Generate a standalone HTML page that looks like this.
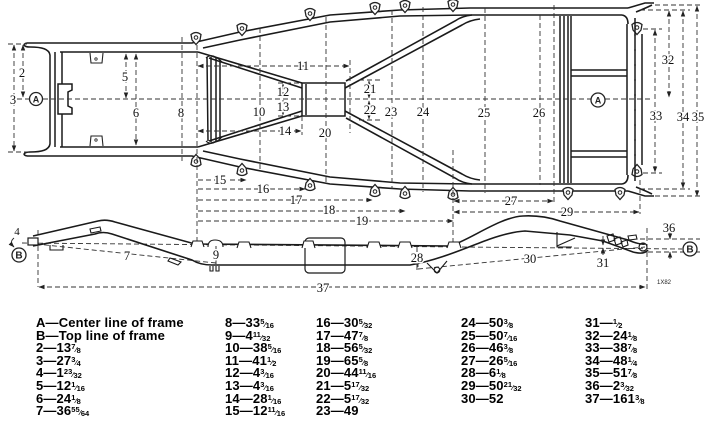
<!DOCTYPE html>
<html><head><meta charset="utf-8">
<style>
html,body{margin:0;padding:0;background:#fff;}
body{width:707px;height:438px;position:relative;overflow:hidden;}
svg{position:absolute;left:0;top:0;}
.col{position:absolute;top:317px;font-family:"Liberation Sans",sans-serif;font-weight:bold;font-size:13px;line-height:12.6px;color:#000;white-space:nowrap;letter-spacing:0.15px;}
.col div{height:12.6px;}
.f{font-size:7px;letter-spacing:0;}
.f sup{vertical-align:3px;line-height:0;font-size:7.5px;}
.f sub{vertical-align:-1px;line-height:0;font-size:7.5px;}
</style></head><body>
<svg width="707" height="438" viewBox="0 0 707 438">
<defs>
<marker id="ar" markerWidth="6" markerHeight="6" refX="5.5" refY="3" orient="auto-start-reverse" markerUnits="userSpaceOnUse"><path d="M0,0.8 L6,3 L0,5.2 z" fill="#222"/></marker>
<g id="mt"><path d="M-5,-3.5 Q0,-7.5 5,-3.5 L4,2 L0,6.5 L-4,2 Z" fill="#fff" stroke="#222" stroke-width="1.3"/><circle r="1.8" cy="-0.5" fill="none" stroke="#222" stroke-width="1"/></g>
<g id="half">
 <g fill="none" stroke="#1a1a1a" stroke-width="1.6">
  <path d="M27,43 L192,43 L240,32 L330,15 L400,10 L470,8 L628,8"/>
  <path d="M60,52 L198,52"/>
  <path d="M203,48 L240,40 L330,22 L400,16 L470,15 L622,15"/>
  <path d="M27,43 C22,44 24,47 30,47 C42,47 49,49 50,55"/>
  <path d="M198,52 L302,83"/>
  <path d="M209,58 L302,88"/>
  <path d="M346,81 L455,21 Q462,16 472,15"/>
  <path d="M345,88 L462,25 Q470,20 480,19"/>
  <path d="M622,15 Q628,16 628,24"/>
  <path d="M628,8 L645,3 L654,3"/>
  <path d="M636,12 Q646,8 652,5"/>
 </g>
 <use href="#mt" x="196" y="38"/>
 <use href="#mt" x="242" y="29"/>
 <use href="#mt" x="310" y="14"/>
 <use href="#mt" x="375" y="8"/>
 <use href="#mt" x="405" y="6"/>
 <use href="#mt" x="453" y="5"/>
 <use href="#mt" x="637" y="28"/>
 <path d="M90,53 L91,63 L102,63 L103,53" fill="none" stroke="#222" stroke-width="1.1"/>
 <circle cx="96" cy="59" r="1.2" fill="none" stroke="#222" stroke-width="0.8"/>
</g>
</defs>

<!-- top view frame -->
<use href="#half"/>
<use href="#half" transform="matrix(1 0 0 -1 0 199)"/>
<g fill="none" stroke="#1a1a1a" stroke-width="1.5">
 <path d="M50,55 L50,144 M55,52 L55,147 M62,52 L62,147"/>
 <path d="M207,57 L208,141 M211,57 L211,142 M216,58 L216,141 M220,60 L220,139"/>
 <path d="M206,58 Q212,52 222,62 M206,141 Q212,147 222,137" stroke-width="1.2"/>
 <rect x="302" y="83" width="43" height="33"/>
 <path d="M306,84 L306,115"/>
 <path d="M560,16 L560,183 M564,16 L564,183 M568,16 L568,183 M571,16 L571,183"/>
 <path d="M571,70 L627,70 M571,76 L627,76 M571,151 L627,151 M571,157 L627,157"/>
 <path d="M627,24 L627,175 M635,18 L635,181 M642,34 L642,165"/>
 <path d="M58,84 L72,84 L72,90 L68,92 L68,106 L72,108 L72,114 L58,114 Z" fill="#fff"/>
</g>
<g fill="#222">
 <circle cx="635" cy="35" r="0.9"/><circle cx="635" cy="50" r="0.9"/><circle cx="635" cy="65" r="0.9"/><circle cx="635" cy="80" r="0.9"/><circle cx="635" cy="95" r="0.9"/><circle cx="635" cy="110" r="0.9"/><circle cx="635" cy="125" r="0.9"/><circle cx="635" cy="140" r="0.9"/><circle cx="635" cy="155" r="0.9"/><circle cx="635" cy="170" r="0.9"/>
</g>
<use href="#mt" x="568" y="193"/>
<use href="#mt" x="620" y="193"/>

<!-- top view dimension lines -->
<g fill="none" stroke="#333" stroke-width="0.9" stroke-dasharray="5 3">
 <path d="M17,99 L29,99 M43,99 L591,99 M605,99 L650,99"/>
 <path d="M8,44 L27,44 M8,152 L30,152"/>
 <path d="M23,45 L23,97" marker-start="url(#ar)" marker-end="url(#ar)"/>
 <path d="M14,45 L14,151" marker-start="url(#ar)" marker-end="url(#ar)"/>
 <path d="M126,54 L126,98" marker-start="url(#ar)" marker-end="url(#ar)"/>
 <path d="M136,54 L136,145" marker-start="url(#ar)" marker-end="url(#ar)"/>
 <path d="M182,37 L182,161"/>
 <path d="M260,28 L260,170"/>
 <path d="M198,66 L349,66" marker-start="url(#ar)" marker-end="url(#ar)"/>
 <path d="M350,60 L350,133"/>
 <path d="M283,84 L283,115" marker-start="url(#ar)" marker-end="url(#ar)"/>
 <path d="M278,83 L300,83 M278,116 L300,116"/>
 <path d="M198,131 L301,131" marker-start="url(#ar)" marker-end="url(#ar)"/>
 <path d="M302,116 L302,135"/>
 <path d="M326,17 L326,182"/>
 <path d="M369,81 L369,98" marker-start="url(#ar)" marker-end="url(#ar)"/>
 <path d="M369,101 L369,119" marker-start="url(#ar)" marker-end="url(#ar)"/>
 <path d="M359,80 L381,80 M359,120 L381,120"/>
 <path d="M392,10 L392,189"/>
 <path d="M423,7 L423,192"/>
 <path d="M485,8 L485,193"/>
 <path d="M540,15 L540,185"/>
 <path d="M554,5 L554,203"/>
 <path d="M640,180 L640,214"/>
 <path d="M669,11 L669,97" marker-start="url(#ar)" marker-end="url(#ar)"/>
 <path d="M655,30 L655,172" marker-start="url(#ar)" marker-end="url(#ar)"/>
 <path d="M683,11 L683,188" marker-start="url(#ar)" marker-end="url(#ar)"/>
 <path d="M697,6 L697,196" marker-start="url(#ar)" marker-end="url(#ar)"/>
 <path d="M655,5 L702,5 M640,10 L690,10 M643,29 L662,29 M643,173 L662,173 M640,189 L690,189 M655,196 L702,196"/>
 <path d="M197,45 L197,246"/>
 <path d="M198,180 L246,180" marker-end="url(#ar)"/>
 <path d="M198,189 L305,189" marker-end="url(#ar)"/>
 <path d="M198,200 L372,200" marker-end="url(#ar)"/>
 <path d="M198,211 L405,211" marker-end="url(#ar)"/>
 <path d="M198,221 L453,221" marker-end="url(#ar)"/>
 <path d="M453,150 L453,248"/>
 <path d="M454,201 L553,201" marker-start="url(#ar)" marker-end="url(#ar)"/>
 <path d="M454,212 L639,212" marker-start="url(#ar)" marker-end="url(#ar)"/>
</g>

<!-- A circles -->
<g fill="#fff" stroke="#222" stroke-width="1.3">
 <circle cx="36" cy="99" r="6.5"/>
 <circle cx="598" cy="100" r="7"/>
</g>
<g font-family="Liberation Sans, sans-serif" font-weight="bold" font-size="9" text-anchor="middle" fill="#222">
 <text x="36" y="102.3">A</text>
 <text x="598" y="103.3">A</text>
</g>

<!-- top view labels -->
<g font-family="Liberation Serif, serif" font-size="12.5" text-anchor="middle" fill="#111" stroke="#fff" stroke-width="3" paint-order="stroke" dominant-baseline="central">
 <text x="22" y="73">2</text>
 <text x="13" y="100">3</text>
 <text x="125" y="77">5</text>
 <text x="136" y="113">6</text>
 <text x="181" y="113">8</text>
 <text x="259" y="112">10</text>
 <text x="303" y="66">11</text>
 <text x="283" y="92">12</text>
 <text x="283" y="107">13</text>
 <text x="285" y="131">14</text>
 <text x="325" y="133">20</text>
 <text x="370" y="89">21</text>
 <text x="370" y="110">22</text>
 <text x="391" y="112">23</text>
 <text x="423" y="112">24</text>
 <text x="484" y="113">25</text>
 <text x="539" y="113">26</text>
 <text x="668" y="60">32</text>
 <text x="656" y="116">33</text>
 <text x="683" y="117">34</text>
 <text x="698" y="117">35</text>
 <text x="220" y="180">15</text>
 <text x="263" y="189">16</text>
 <text x="296" y="200">17</text>
 <text x="329" y="210">18</text>
 <text x="362" y="221">19</text>
 <text x="511" y="201">27</text>
 <text x="567" y="212">29</text>
</g>

<!-- side view -->
<g fill="none" stroke="#333" stroke-width="0.9" stroke-dasharray="5 3">
 <path d="M22,243 L682,249"/>
 <path d="M36,244 L216,263"/>
 <path d="M38,230 L38,287"/>
 <path d="M39,287 L645,287" marker-start="url(#ar)" marker-end="url(#ar)"/>
 <path d="M647,228 L647,292"/>
 <path d="M418,269 L645,247"/>
 <path d="M418,262 L418,270"/>
 <path d="M640,239 L700,239"/>
 <path d="M648,252 L700,252"/>
</g>
<g fill="none" stroke="#1a1a1a" stroke-width="1.6">
 <path d="M33,236 L98,221 Q106,219 115,222 L195,244 L450,246 C470,240 500,217 523,216 Q542,215 560,221 L628,240 Q640,245 645,244"/>
 <path d="M33,246 L95,234 Q103,231 112,234 L192,260 Q200,265 212,265 L410,265 C440,260 470,246 490,239 Q510,232 525,231 L570,235 L603,241 L633,252 Q644,255 648,250"/>
 <circle cx="643" cy="247" r="4" stroke-width="1.2"/>
 <rect x="28" y="238" width="10" height="7" fill="#fff" stroke-width="1.2"/>
 <path d="M50,245 L50,250 L63,250 L63,245" stroke-width="1.1"/>
 <path d="M90,229 L100,227 L101,231 L91,233 Z" stroke-width="1.1"/>
 <path d="M170,258 L181,262 L178,265 L168,261 Z" stroke-width="1.1"/>
 <path d="M191,247 L193,241 L202,241 L204,247" stroke-width="1.1" fill="#fff"/>
 <path d="M208,247 Q208,240 215,240 Q223,240 223,247" stroke-width="1.1" fill="#fff"/>
 <path d="M237,248 L239,242 L249,242 L251,248" stroke-width="1.1" fill="#fff"/>
 <path d="M210,266 L210,271 L213,271 L213,266 M216,266 L216,271 L219,271 L219,266" stroke-width="1.1"/>
 <rect x="305" y="238" width="40" height="35" rx="4" stroke-width="1.2"/>
 <path d="M302,248 L304,241 L313,241 L315,248" stroke-width="1.1" fill="#fff"/>
 <path d="M367,248 L369,242 L379,242 L381,248" stroke-width="1.1" fill="#fff"/>
 <path d="M398,248 L400,242 L410,242 L412,248" stroke-width="1.1" fill="#fff"/>
 <path d="M447,248 L449,242 L459,242 L461,248" stroke-width="1.1" fill="#fff"/>
 <path d="M427,263 L437,273 L447,261" stroke-width="1.1"/>
 <circle cx="437" cy="270" r="2.8" stroke-width="1.1"/>
 <path d="M557,232 L557,247 L572,247 M557,246 L575,238" stroke-width="1.1"/>
 <path d="M607,236 L613,234 L615,240 L609,242 Z M614,239 L620,237 L622,243 L616,245 Z M621,242 L627,240 L628,245 L623,247 Z" stroke-width="1.1"/>
 <path d="M628,236 L636,235 L637,239 L629,240 Z" stroke-width="1.1"/>
</g>
<g fill="none" stroke="#222" stroke-width="0.9">
 <path d="M216,246 L216,264"/>
 <path d="M417,246 L417,252 M417,264 L417,270"/>
 <path d="M603,236 L603,245" marker-end="url(#ar)"/>
 <path d="M603,255 L603,248" marker-end="url(#ar)"/>
 <path d="M670,231 L670,239" marker-end="url(#ar)"/>
 <path d="M670,259 L670,252" marker-end="url(#ar)"/>
 <path d="M14,238 Q9,242 14,247" marker-end="url(#ar)"/>
</g>
<g fill="#fff" stroke="#222" stroke-width="1.3">
 <circle cx="19" cy="255" r="7"/>
 <circle cx="690" cy="249" r="7"/>
</g>
<g font-family="Liberation Sans, sans-serif" font-weight="bold" font-size="10" text-anchor="middle" fill="#222">
 <text x="19" y="258.6">B</text>
 <text x="690" y="252.6">B</text>
</g>
<g font-family="Liberation Serif, serif" font-size="12.5" text-anchor="middle" fill="#111" stroke="#fff" stroke-width="3" paint-order="stroke" dominant-baseline="central">
 <text x="17" y="232" font-size="11">4</text>
 <text x="127" y="256">7</text>
 <text x="216" y="255">9</text>
 <text x="323" y="288">37</text>
 <text x="417" y="258">28</text>
 <text x="530" y="259">30</text>
 <text x="603" y="263">31</text>
 <text x="669" y="228">36</text>
</g>
<text x="657" y="284" font-family="Liberation Sans, sans-serif" font-size="6" fill="#222">1X82</text>
</svg>

<div class="col" style="left:36px">
<div>A—Center line of frame</div>
<div>B—Top line of frame</div>
<div>2—13<span class="f"><sup>7</sup>⁄<sub>8</sub></span></div>
<div>3—27<span class="f"><sup>3</sup>⁄<sub>4</sub></span></div>
<div>4—1<span class="f"><sup>23</sup>⁄<sub>32</sub></span></div>
<div>5—12<span class="f"><sup>1</sup>⁄<sub>16</sub></span></div>
<div>6—24<span class="f"><sup>1</sup>⁄<sub>8</sub></span></div>
<div>7—36<span class="f"><sup>55</sup>⁄<sub>64</sub></span></div>
</div>
<div class="col" style="left:225px">
<div>8—33<span class="f"><sup>5</sup>⁄<sub>16</sub></span></div>
<div>9—4<span class="f"><sup>11</sup>⁄<sub>32</sub></span></div>
<div>10—38<span class="f"><sup>5</sup>⁄<sub>16</sub></span></div>
<div>11—41<span class="f"><sup>1</sup>⁄<sub>2</sub></span></div>
<div>12—4<span class="f"><sup>3</sup>⁄<sub>16</sub></span></div>
<div>13—4<span class="f"><sup>3</sup>⁄<sub>16</sub></span></div>
<div>14—28<span class="f"><sup>1</sup>⁄<sub>16</sub></span></div>
<div>15—12<span class="f"><sup>11</sup>⁄<sub>16</sub></span></div>
</div>
<div class="col" style="left:316px">
<div>16—30<span class="f"><sup>5</sup>⁄<sub>32</sub></span></div>
<div>17—47<span class="f"><sup>7</sup>⁄<sub>8</sub></span></div>
<div>18—56<span class="f"><sup>5</sup>⁄<sub>32</sub></span></div>
<div>19—65<span class="f"><sup>5</sup>⁄<sub>8</sub></span></div>
<div>20—44<span class="f"><sup>11</sup>⁄<sub>16</sub></span></div>
<div>21—5<span class="f"><sup>17</sup>⁄<sub>32</sub></span></div>
<div>22—5<span class="f"><sup>17</sup>⁄<sub>32</sub></span></div>
<div>23—49</div>
</div>
<div class="col" style="left:461px">
<div>24—50<span class="f"><sup>3</sup>⁄<sub>8</sub></span></div>
<div>25—50<span class="f"><sup>7</sup>⁄<sub>16</sub></span></div>
<div>26—46<span class="f"><sup>3</sup>⁄<sub>8</sub></span></div>
<div>27—26<span class="f"><sup>5</sup>⁄<sub>16</sub></span></div>
<div>28—6<span class="f"><sup>1</sup>⁄<sub>8</sub></span></div>
<div>29—50<span class="f"><sup>21</sup>⁄<sub>32</sub></span></div>
<div>30—52</div>
</div>
<div class="col" style="left:585px">
<div>31—<span class="f"><sup>1</sup>⁄<sub>2</sub></span></div>
<div>32—24<span class="f"><sup>1</sup>⁄<sub>8</sub></span></div>
<div>33—38<span class="f"><sup>7</sup>⁄<sub>8</sub></span></div>
<div>34—48<span class="f"><sup>1</sup>⁄<sub>4</sub></span></div>
<div>35—51<span class="f"><sup>7</sup>⁄<sub>8</sub></span></div>
<div>36—2<span class="f"><sup>3</sup>⁄<sub>32</sub></span></div>
<div>37—161<span class="f"><sup>3</sup>⁄<sub>8</sub></span></div>
</div>
</body></html>
